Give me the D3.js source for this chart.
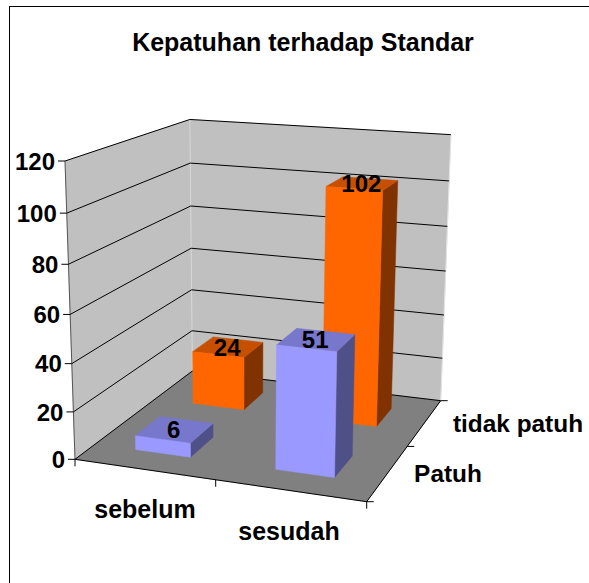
<!DOCTYPE html>
<html><head><meta charset="utf-8">
<script src="https://cdn.jsdelivr.net/npm/d3@7"></script>
<style>html,body{margin:0;padding:0;background:#fff}svg{display:block}
text{font-family:"Liberation Sans",Arial,sans-serif;font-weight:700;fill:#000}</style>
</head><body><div id="chart"></div>
<script>
const categories = ["sebelum", "sesudah"];
const seriesNames = ["Patuh", "tidak patuh"];
const patuh = [6, 51];
const tidakPatuh = [24, 102];
const yTicks = [0, 20, 40, 60, 80, 100, 120];
const title = "Kepatuhan terhadap Standar";

const W = 589, H = 583;
const svg = d3.select("#chart").append("svg").attr("width", W).attr("height", H);
svg.append("rect").attr("x",9.5).attr("y",6.5).attr("width",W+20).attr("height",H+20).attr("fill","#fff").attr("stroke","#000");

// Perspective projection fitted to the box corners
const O=[75,459.3], X=[366.7,501.7], Z=[192.4,371], XZ=[440.7,400.7], Y=[65,161], XZY=[451,132.7];
const sx=O[0]-X[0]+XZ[0]-Z[0], sy=O[1]-X[1]+XZ[1]-Z[1];
const e1=X[0]-XZ[0], e2=Z[0]-XZ[0], e3=X[1]-XZ[1], e4=Z[1]-XZ[1];
const den=e1*e4-e2*e3;
const g=(sx*e4-e2*sy)/den, i=(e1*sy-sx*e3)/den;
const a=[X[0]*(1+g)-O[0], X[1]*(1+g)-O[1]];
const c=[Z[0]*(1+i)-O[0], Z[1]*(1+i)-O[1]];
// vanishing point of the verticals
const m1=(Y[0]-O[0])/(Y[1]-O[1]), m2=(XZY[0]-XZ[0])/(XZY[1]-XZ[1]);
const Vy=(XZ[0]-O[0]+m1*O[1]-m2*XZ[1])/(m1-m2), Vx=O[0]+m1*(Vy-O[1]);
const h=(O[1]-Y[1])/(Y[1]-Vy);
function proj(ux,uy,uz){const w=g*ux+h*uy+i*uz+1;
  return [(a[0]*ux+h*Vx*uy+c[0]*uz+O[0])/w,(a[1]*ux+h*Vy*uy+c[1]*uz+O[1])/w];}

const xS=d3.scaleBand().domain(categories).range([0,1]).paddingInner(0.6).paddingOuter(0.3);
const zS=d3.scaleBand().domain(seriesNames).range([0,1]).paddingInner(0.6).paddingOuter(0.3);
const yS=d3.scaleLinear().domain([0,120]).range([0,1]);
const poly=(pts,fill,stroke)=>svg.append("polygon").attr("points",pts.map(p=>p.join(",")).join(" ")).attr("fill",fill).attr("stroke",stroke||fill).attr("stroke-width",stroke?1:0.5);
const line=(p,q,col,w)=>svg.append("line").attr("x1",p[0]).attr("y1",p[1]).attr("x2",q[0]).attr("y2",q[1]).attr("stroke",col||"#000").attr("stroke-width",w||1);

// walls and floor
poly([proj(0,0,0),proj(0,1,0),proj(0,1,1),proj(0,0,1)],"#C0C0C0");
poly([proj(0,0,1),proj(0,1,1),proj(1,1,1),proj(1,0,1)],"#C0C0C0");
poly([proj(0,0,0),proj(1,0,0),proj(1,0,1),proj(0,0,1)],"#808080");
line(proj(0,0,1),proj(0,1,1),"#d8d8d8");
line(proj(1,0,1),proj(1,1,1),"#e4e4e4");
line(proj(0,0,0),proj(0,1,0),"#555");
yTicks.forEach(t=>{const u=yS(t);
  line(proj(0,u,0),proj(0,u,1)); line(proj(0,u,1),proj(1,u,1));
  const p=proj(0,u,0); line([p[0]-7,p[1]],p);
  svg.append("text").attr("x",p[0]-10).attr("y",p[1]).attr("dy","0.36em").attr("text-anchor","end").attr("font-size",24).text(t);
});
line(proj(0,0,0),proj(1,0,0)); line(proj(1,0,0),proj(1,0,1));
[0,0.5,1].forEach(u=>{const p=proj(u,0,0); line(p,[p[0],p[1]+7]);});
[0,0.5,1].forEach(u=>{const p=proj(1,0,u); line(p,[p[0]+7,p[1]]);});

// category labels
const catPos=[[145,509],[289,531]], serPos=[[448,473],[518,423]];
categories.forEach((t,k)=>svg.append("text").attr("x",catPos[k][0]).attr("y",catPos[k][1]).attr("dy","0.36em").attr("text-anchor","middle").attr("font-size",25).text(t));
seriesNames.forEach((t,k)=>svg.append("text").attr("x",serPos[k][0]).attr("y",serPos[k][1]).attr("dy","0.36em").attr("text-anchor","middle").attr("font-size",24.4).text(t));

svg.append("text").attr("x",303).attr("y",42).attr("dy","0.36em").attr("text-anchor","middle").attr("font-size",25).text(title);

// bars, back row first
function bar(cat,ser,v,front,top,side){
  const x0=xS(cat),x1=x0+xS.bandwidth(),z0=zS(ser),z1=z0+zS.bandwidth(),u=yS(v);
  poly([proj(x1,0,z0),proj(x1,0,z1),proj(x1,u,z1),proj(x1,u,z0)],side);
  poly([proj(x0,u,z0),proj(x1,u,z0),proj(x1,u,z1),proj(x0,u,z1)],top);
  poly([proj(x0,0,z0),proj(x1,0,z0),proj(x1,u,z0),proj(x0,u,z0)],front);
}
const orange=["#FF6600","#C65000","#803300"], blue=["#9999FF","#7777CC","#505088"];
categories.forEach((cat,k)=>bar(cat,seriesNames[1],tidakPatuh[k],...orange));
categories.forEach((cat,k)=>bar(cat,seriesNames[0],patuh[k],...blue));
function label(cat,ser,v){
  const p=proj(xS(cat)+xS.bandwidth()/2,yS(v),zS(ser)+zS.bandwidth()/2);
  svg.append("text").attr("x",p[0]-1).attr("y",p[1]).attr("dy","0.36em").attr("text-anchor","middle").attr("font-size",24).text(v);
}
categories.forEach((cat,k)=>label(cat,seriesNames[1],tidakPatuh[k]));
categories.forEach((cat,k)=>label(cat,seriesNames[0],patuh[k]));
</script></body></html>
